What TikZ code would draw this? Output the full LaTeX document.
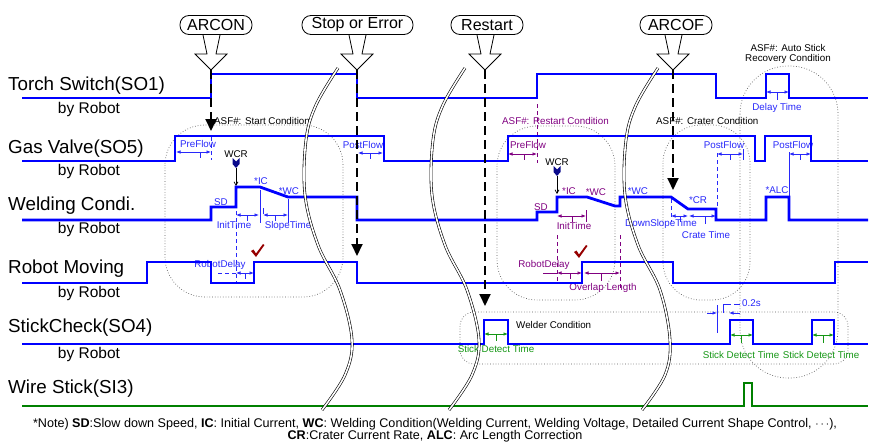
\documentclass[tikz,border=0pt]{standalone}
\usepackage{fontspec}
\setmainfont{Liberation Sans}
\usetikzlibrary{arrows.meta}
\definecolor{sigblue}{RGB}{0,0,255}
\definecolor{siggreen}{RGB}{0,128,0}
\definecolor{purp}{RGB}{128,0,128}
\definecolor{lblue}{RGB}{40,40,250}
\definecolor{ngreen}{RGB}{20,150,20}
\definecolor{chk}{RGB}{150,0,0}
\definecolor{navy}{RGB}{10,10,140}
\begin{document}
\begin{tikzpicture}[x=1pt,y=-1pt,
  sig/.style={draw=sigblue,line width=2.8pt,line join=miter},
  gsig/.style={draw=siggreen,line width=2.8pt,line join=miter},
  region/.style={draw=black!65,dotted,line width=0.7pt},
  bigdash/.style={draw=black,line width=1.9pt,dash pattern=on 9pt off 5pt,-{Triangle[length=12pt,width=11pt]}},
  brk/.style={draw=black,line width=0.6pt,double=white,double distance=1.6pt},
  sname/.style={font=\fontsize{18.8}{20}\selectfont,anchor=base west,inner sep=0pt},
  byr/.style={font=\fontsize{15.5}{17}\selectfont,anchor=base,inner sep=0pt},
  lab/.style={font=\fontsize{9.8}{11}\selectfont,anchor=base,inner sep=0pt},
  note/.style={font=\fontsize{12.6}{14}\selectfont,anchor=base,inner sep=0pt},
  callbox/.style={draw,line width=0.8pt,rounded corners=9pt,minimum height=19pt,inner sep=0pt,font=\fontsize{16}{18}\selectfont},
  dim/.style={{Latex[length=4.5pt,width=3.5pt]}-{Latex[length=4.5pt,width=3.5pt]},line width=0.7pt},
  vdash/.style={line width=0.8pt,dash pattern=on 4pt off 3pt},
  fine/.style={line width=0.7pt},
  callarrow/.pic={\draw[fill=white,line width=0.8pt,line join=miter] (-8,-35) -- (-4,-16) -- (-16,-16) -- (0,0) -- (16,-16) -- (5,-16) -- (9,-35);},
  checkmark/.pic={\fill[chk] (-6,-1) -- (-3.5,-2.5) -- (-1,1.5) -- (6,-8) -- (7.5,-7) -- (-1,5) -- cycle;},
  wcr/.pic={\fill[navy] (-3.5,-6) -- (0,-2.5) -- (3.5,-6) -- (3.5,0) -- (0,4) -- (-3.5,0) -- cycle;}
]
\useasboundingbox (0,0) rectangle (871,447);

% ---------- dotted condition regions ----------
\draw[region,rounded corners=40pt] (165,125) rectangle (343,297);
\draw[region,rounded corners=40pt] (497,126) rectangle (615,300);
\draw[region,rounded corners=38pt] (663,125) rectangle (750,300);
\draw[region,rounded corners=48pt] (740,66) rectangle (838,378);
\draw[region,rounded corners=14pt] (460,312) rectangle (848,364);

% ---------- signal names ----------
\node[sname] (n1) at (8,90) {Torch Switch(SO1)};
\node[byr] (b1) at (89,113) {by Robot};
\node[sname] (n2) at (8,153) {Gas Valve(SO5)};
\node[byr] (b2) at (89,175) {by Robot};
\node[sname] (n3) at (8,210) {Welding Condi.};
\node[byr] (b3) at (89,233) {by Robot};
\node[sname] (n4) at (8,273) {Robot Moving};
\node[byr] (b4) at (89,297) {by Robot};
\node[sname] (n5) at (8,332) {StickCheck(SO4)};
\node[byr] (b5) at (89,358) {by Robot};
\node[sname] (n6) at (8,393) {Wire Stick(SI3)};

% ---------- annotations: start condition ----------
\node[lab,anchor=base west] (asf1) at (214,124) {ASF\#: Start Condition};
\draw[vdash,lblue] (211,137) -- (211,160);
\node[lab,lblue] (pf1) at (198,147) {PreFlow};
\draw[dim,lblue] (176,152) -- (211,152);
\draw[fine,lblue] (200,152) -- (200,158);
\node[lab,lblue] (pof1) at (363,148) {PostFlow};
\draw[dim,lblue] (358,153) -- (383,153);
\draw[fine,lblue] (370,153) -- (370,159);
\node[lab] (wcr1t) at (236,157) {WCR};
\pic at (236,164) {wcr};
\draw[fine,-{Straight Barb[length=3.5pt,width=4pt]}] (236,168) -- (236,186);
\node[lab,lblue] (sd1) at (221,205) {SD};
\node[lab,lblue] (ic1) at (261,184) {*IC};
\node[lab,lblue] (wc1) at (289,194) {*WC};
\draw[fine,lblue] (260,190) -- (260,223);
\draw[fine,lblue] (288,199) -- (288,223);
\draw[dim,lblue] (236,215) -- (259,215);
\draw[fine,lblue] (247,215) -- (247,221);
\draw[dim,lblue] (263,215) -- (288,215);
\draw[fine,lblue] (263,208) -- (263,214);
\draw[fine,lblue] (275,215) -- (275,221);
\node[lab,lblue] (it1) at (234,228) {InitTime};
\node[lab,lblue] (st1) at (288,228) {SlopeTime};
\draw[vdash,lblue] (236,190) -- (236,284);
\node[lab,lblue] (rd1) at (220,267) {RobotDelay};
\draw[fine,lblue,dash pattern=on 4pt off 3pt] (218,273) -- (236,273);
\draw[dim,lblue] (236,273) -- (254,273);
\draw[fine,lblue] (245,273) -- (245,279);
\pic at (257,252) {checkmark};

% ---------- restart condition ----------
\node[lab,purp,anchor=base west] (asf2) at (502,124) {ASF\#: Restart Condition};
\draw[vdash,purp] (537,104) -- (537,163);
\node[lab,purp] (pf2) at (528,148) {PreFlow};
\draw[dim,purp] (508,154) -- (537,154);
\draw[fine,purp] (524,154) -- (524,160);
\node[lab] (wcr2t) at (557,165) {WCR};
\pic at (557,172) {wcr};
\draw[fine,-{Straight Barb[length=3.5pt,width=4pt]}] (557,176) -- (557,194);
\node[lab,purp] (sd2) at (541,210) {SD};
\node[lab,purp] (ic2) at (569,194) {*IC};
\node[lab,purp] (wc2) at (596,195) {*WC};
\draw[dim,purp] (557,216) -- (586,216);
\draw[fine,purp] (586,210) -- (586,222);
\draw[fine,purp] (572,216) -- (572,222);
\node[lab,purp] (it2) at (574,229) {InitTime};
\draw[vdash,purp] (557,235) -- (557,283);
\draw[vdash,purp] (620,235) -- (620,290);
\node[lab,purp] (rd2) at (544,267) {RobotDelay};
\draw[fine,purp] (543,273) -- (557,273);
\draw[dim,purp] (557,273) -- (582,273);
\draw[fine,purp] (570,273) -- (570,279);
\draw[dim,purp] (584,273) -- (620,273);
\draw[fine,purp] (595,273) -- (607,273);
\draw[fine,purp] (601,273) -- (601,281);
\node[lab,purp] (ol2) at (603,290) {Overlap Length};
\pic at (580,253) {checkmark};

% ---------- crater / end ----------
\node[lab,anchor=base west] (asf3) at (656,124) {ASF\#: Crater Condition};
\node[lab,lblue] (wc3) at (638,194) {*WC};
\node[lab,lblue] (cr3) at (698,203) {*CR};
\draw[vdash,lblue] (671,199) -- (671,222);
\draw[dim,lblue] (671,216) -- (688,216);
\draw[fine,lblue] (680,216) -- (680,222);
\draw[dim,lblue] (689,216) -- (716,216);
\draw[fine,lblue] (705,216) -- (705,224);
\node[lab,lblue] (ds3) at (661,226) {DownSlopeTime};
\node[lab,lblue] (ct3) at (706,238) {Crate Time};
\draw[vdash,lblue] (717,153) -- (717,208);
\node[lab,lblue] (pof3) at (724,148) {PostFlow};
\draw[dim,lblue] (717,154) -- (743,154);
\draw[fine,lblue] (743,149) -- (743,160);
\draw[fine,lblue] (730,154) -- (730,160);
\node[lab,lblue] (pof4) at (793,148) {PostFlow};
\draw[fine,lblue] (789,152) -- (789,197);
\draw[dim,lblue] (789,154) -- (811,154);
\draw[fine,lblue] (800,154) -- (800,160);
\node[lab,lblue] (alc) at (777,193) {*ALC};
\node[lab] (asf4a) at (788,51) {ASF\#: Auto Stick};
\node[lab] (asf4b) at (788,61) {Recovery Condition};
\draw[dim,lblue] (766,92) -- (789,92);
\draw[fine,lblue] (777,92) -- (777,100);
\node[lab,lblue] (dly) at (777,110) {Delay Time};

% ---------- stick check annotations ----------
\node[lab,anchor=base west] (wcond) at (516,328) {Welder Condition};
\draw[dim,ngreen] (484,334) -- (508,334);
\draw[fine,ngreen] (496,334) -- (496,341);
\node[lab,ngreen] (sdt1) at (496,352) {Stick Detect Time};
\draw[dim,ngreen] (730,335) -- (753,335);
\draw[fine,ngreen] (741,335) -- (741,343);
\node[lab,ngreen] (sdt2) at (741,358) {Stick Detect Time};
\draw[dim,ngreen] (812,335) -- (834,335);
\draw[fine,ngreen] (823,335) -- (823,343);
\node[lab,ngreen] (sdt3) at (821,358) {Stick Detect Time};
\draw[fine,lblue] (717,305) -- (717,333);
\draw[fine,lblue,-{Latex[length=4.5pt,width=3.5pt]}] (707,313) -- (717,313);
\draw[fine,lblue,-{Latex[length=4.5pt,width=3.5pt]}] (740,313) -- (729,313);
\draw[fine,lblue] (723,313) -- (723,304) -- (731,304);
\draw[fine,lblue] (734,304) -- (740,304);
\node[lab,lblue,anchor=base west] (t02) at (742,306) {0.2s};

% ---------- signals ----------
\draw[sig] (22,98) -- (211,98) -- (211,74) -- (357,74) -- (357,98) -- (537,98) -- (537,74) -- (716,74) -- (716,98) -- (766,98) -- (766,74) -- (789,74) -- (789,98) -- (868,98);
\draw[sig] (22,161) -- (175,161) -- (175,136) -- (384,136) -- (384,161) -- (508,161) -- (508,136) -- (755,136) -- (755,161) -- (765,161) -- (765,136) -- (811,136) -- (811,161) -- (868,161);
\draw[sig] (22,220) -- (211,220) -- (211,207) -- (236,207) -- (236,187) -- (260,187) -- (288,197) -- (357,197) -- (357,220) -- (537,220) -- (537,212) -- (557,212) -- (557,197) -- (587,197) -- (615,206) -- (620,206) -- (620,197) -- (671,197) -- (688,209) -- (716,209) -- (716,220) -- (766,220) -- (766,197) -- (789,197) -- (789,220) -- (868,220);
\draw[sig] (22,283) -- (147,283) -- (147,262) -- (211,262) -- (211,283) -- (254,283) -- (254,262) -- (357,262) -- (357,283) -- (582,283) -- (582,262) -- (673,262) -- (673,283) -- (835,283) -- (835,262) -- (868,262);
\draw[sig] (22,344) -- (484,344) -- (484,320) -- (508,320) -- (508,344) -- (730,344) -- (730,320) -- (753,320) -- (753,344) -- (812,344) -- (812,320) -- (834,320) -- (834,344) -- (868,344);
\draw[gsig] (22,406) -- (744,406) -- (744,383) -- (752,383) -- (752,406) -- (868,406);

% ---------- event dashed lines ----------
\coordinate (e1a) at (211,70); \coordinate (e1b) at (211,131);
\coordinate (e2a) at (357,70); \coordinate (e2b) at (357,256);
\coordinate (e3a) at (485,70); \coordinate (e3b) at (485,306);
\coordinate (e4a) at (673,70); \coordinate (e4b) at (673,190);
\draw[bigdash] (e1a) -- (e1b);
\draw[bigdash] (e2a) -- (e2b);
\draw[bigdash] (e3a) -- (e3b);
\draw[bigdash] (e4a) -- (e4b);

% ---------- break marks ----------
\draw[brk] plot[smooth,tension=0.6] coordinates {(338,68) (316,105) (306,140) (305,195) (318,245) (340,290) (352,340) (345,375) (322,410)};
\draw[brk] plot[smooth,tension=0.6] coordinates {(465,68) (443,105) (433,140) (432,195) (445,245) (467,290) (479,340) (472,375) (449,410)};
\draw[brk] plot[smooth,tension=0.6] coordinates {(658,68) (636,105) (626,140) (625,195) (638,245) (660,290) (670,340) (665,375) (642,410)};

% ---------- callouts ----------
\node[callbox,minimum width=72pt] (arcon) at (216,25) {ARCON};
\node[callbox,minimum width=111pt] (stop) at (357.5,25) {Stop or Error};
\node[callbox,minimum width=72pt] (restart) at (487,25) {Restart};
\node[callbox,minimum width=72pt] (arcof) at (676,25) {ARCOF};
\pic at (e1a) {callarrow};
\pic at (e2a) {callarrow};
\pic at (e3a) {callarrow};
\pic at (e4a) {callarrow};

% ---------- note ----------
\node[note] (note1) at (435,427) {*Note) \textbf{SD}:Slow down Speed, \textbf{IC}: Initial Current, \textbf{WC}: Welding Condition(Welding Current, Welding Voltage, Detailed Current Shape Control, $\cdots$),};
\node[note] (note2) at (435,439) {\textbf{CR}:Crater Current Rate, \textbf{ALC}: Arc Length Correction};
\end{tikzpicture}
\end{document}
